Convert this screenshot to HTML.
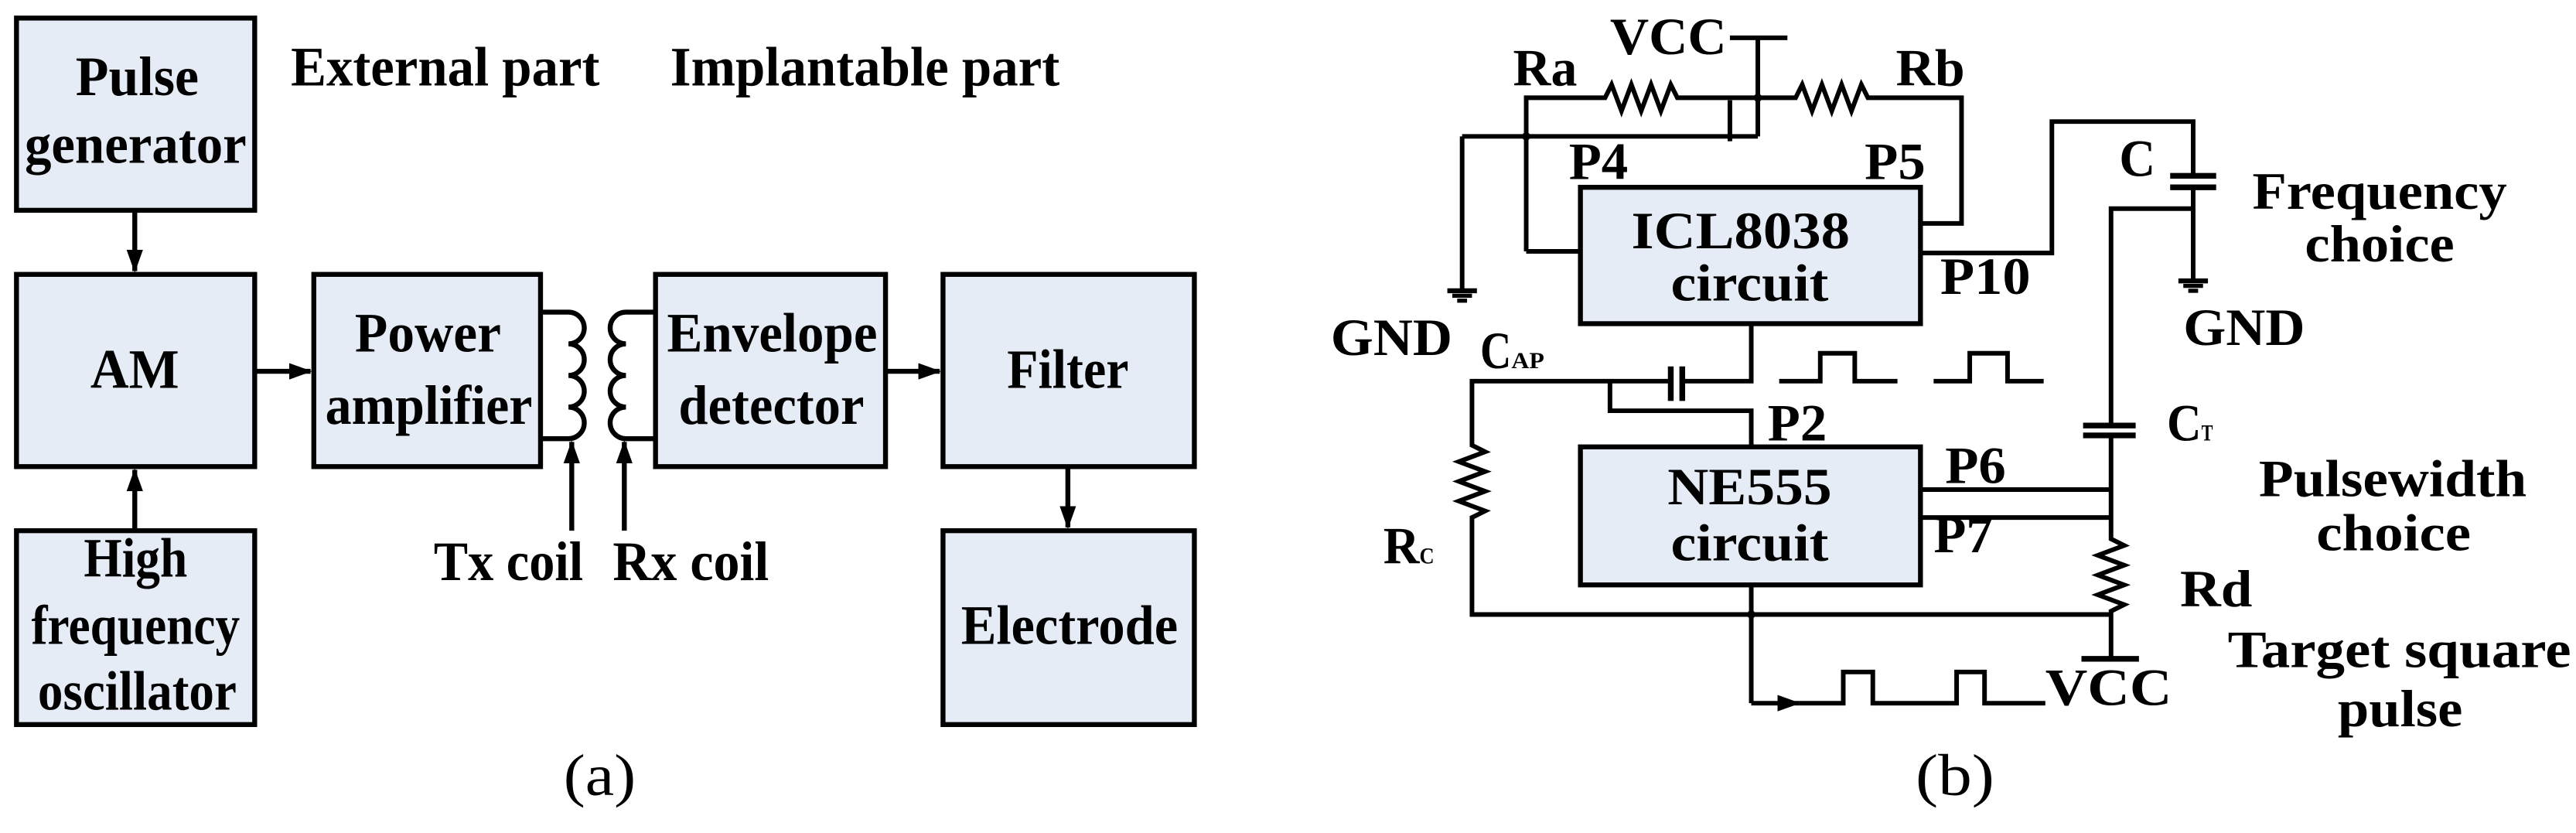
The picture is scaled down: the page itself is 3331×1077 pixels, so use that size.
<!DOCTYPE html>
<html><head><meta charset="utf-8"><style>
html,body{margin:0;padding:0;background:#fff;}
svg{display:block;}
text{font-family:"Liberation Serif",serif;font-weight:bold;fill:#000;}
</style></head><body>
<svg width="3331" height="1077" viewBox="0 0 1568 507" xmlns="http://www.w3.org/2000/svg">
<defs>
<marker id="ah" markerWidth="14" markerHeight="10" refX="13" refY="5" orient="auto" markerUnits="userSpaceOnUse">
<path d="M0,0 L14,5 L0,10 z" fill="#000"/></marker>
</defs>
<g stroke="#000" stroke-width="3" fill="#e5ecf6">
<rect x="10" y="11" width="145" height="117"/>
<rect x="10" y="167" width="145" height="117"/>
<rect x="10" y="323" width="145" height="118"/>
<rect x="191" y="167" width="138" height="117"/>
<rect x="399" y="167" width="140" height="117"/>
<rect x="574" y="167" width="153" height="117"/>
<rect x="574" y="323" width="153" height="118"/>
</g>
<g stroke="#000" stroke-width="3" fill="none">
<line x1="82" y1="128" x2="82" y2="165" marker-end="url(#ah)"/>
<line x1="82" y1="323" x2="82" y2="286" marker-end="url(#ah)"/>
<line x1="155" y1="226" x2="189" y2="226" marker-end="url(#ah)"/>
<line x1="539" y1="226" x2="572" y2="226" marker-end="url(#ah)"/>
<line x1="650" y1="284" x2="650" y2="321" marker-end="url(#ah)"/>
<line x1="348" y1="323" x2="348" y2="269" marker-end="url(#ah)"/>
<line x1="380" y1="323" x2="380" y2="269" marker-end="url(#ah)"/>
<path d="M329,190 L346,190 A9.6,9.6 0 0 1 346,209.25 A9.6,9.6 0 0 1 346,228.5 A9.6,9.6 0 0 1 346,247.75 A9.6,9.6 0 0 1 346,267 L329,267"/>
<path d="M399,190 L381,190 A9.6,9.6 0 0 0 381,209.25 A9.6,9.6 0 0 0 381,228.5 A9.6,9.6 0 0 0 381,247.75 A9.6,9.6 0 0 0 381,267 L399,267"/>
</g>
<g font-size="34">
<text x="46" y="58" textLength="75" lengthAdjust="spacingAndGlyphs">Pulse</text>
<text x="15" y="99" textLength="135" lengthAdjust="spacingAndGlyphs">generator</text>
<text x="177" y="52" textLength="188" lengthAdjust="spacingAndGlyphs">External part</text>
<text x="408" y="52" textLength="237" lengthAdjust="spacingAndGlyphs">Implantable part</text>
<text x="55" y="236" textLength="54" lengthAdjust="spacingAndGlyphs">AM</text>
<text x="216" y="214" textLength="89" lengthAdjust="spacingAndGlyphs">Power</text>
<text x="198" y="258" textLength="126" lengthAdjust="spacingAndGlyphs">amplifier</text>
<text x="406" y="214" textLength="128" lengthAdjust="spacingAndGlyphs">Envelope</text>
<text x="413" y="258" textLength="113" lengthAdjust="spacingAndGlyphs">detector</text>
<text x="613" y="236" textLength="74" lengthAdjust="spacingAndGlyphs">Filter</text>
<text x="51" y="351" textLength="63" lengthAdjust="spacingAndGlyphs">High</text>
<text x="19" y="392" textLength="127" lengthAdjust="spacingAndGlyphs">frequency</text>
<text x="23" y="432" textLength="121" lengthAdjust="spacingAndGlyphs">oscillator</text>
<text x="585" y="392" textLength="132" lengthAdjust="spacingAndGlyphs">Electrode</text>
<text x="264" y="353" textLength="91" lengthAdjust="spacingAndGlyphs">Tx coil</text>
<text x="373" y="353" textLength="95" lengthAdjust="spacingAndGlyphs">Rx coil</text>
</g>
<text x="343" y="484" font-size="36" style="font-weight:normal" textLength="44" lengthAdjust="spacingAndGlyphs">(a)</text>
<text x="1166" y="484" font-size="36" style="font-weight:normal" textLength="48" lengthAdjust="spacingAndGlyphs">(b)</text>

<g stroke="#000" stroke-width="3" fill="#e5ecf6">
<rect x="962" y="114" width="207" height="83"/>
<rect x="962" y="272" width="207" height="84"/>
</g>
<g stroke="#000" stroke-width="2.8" fill="none">
<line x1="1053" y1="23" x2="1088" y2="23"/>
<line x1="1070" y1="23" x2="1070" y2="83"/>
<path d="M929,153 L929,59.5 L977,59.5 l4,-8 l6,16 l6,-16 l6,16 l6,-16 l6,16 l6,-16 l4,8 L1093,59.5 l4,-8 l6,16 l6,-16 l6,16 l6,-16 l6,16 l6,-16 l4,8 L1194,59.5 L1194,136 L1169,136"/>
<line x1="929" y1="153" x2="962" y2="153"/>
<line x1="890" y1="83" x2="1070" y2="83"/>
<line x1="1053" y1="61" x2="1053" y2="86"/>
<line x1="890" y1="83" x2="890" y2="177"/>
<line x1="881" y1="177" x2="899" y2="177" stroke-width="3"/>
<line x1="884" y1="180" x2="896" y2="180" stroke-width="2.5"/>
<line x1="887" y1="183" x2="893" y2="183" stroke-width="2.5"/>
<path d="M1169,154 L1249,154 L1249,74 L1335,74 L1335,107"/>
<line x1="1321" y1="107" x2="1349" y2="107" stroke-width="3.5"/>
<line x1="1321" y1="114" x2="1349" y2="114" stroke-width="3.5"/>
<line x1="1335" y1="114" x2="1335" y2="171"/>
<line x1="1326" y1="171" x2="1344" y2="171" stroke-width="3"/>
<line x1="1329" y1="174" x2="1341" y2="174" stroke-width="2.5"/>
<line x1="1332" y1="177" x2="1338" y2="177" stroke-width="2.5"/>
<path d="M1335,127 L1285,127 L1285,259"/>
<line x1="1268" y1="259" x2="1300" y2="259" stroke-width="3.5"/>
<line x1="1268" y1="265" x2="1300" y2="265" stroke-width="3.5"/>
<path d="M1285,265 L1285,328 l8,4 l-16,6 l16,6 l-16,6 l16,6 l-16,6 l16,6 l-8,4 L1285,401"/>
<line x1="1267" y1="401" x2="1302" y2="401" stroke-width="3.5"/>
<line x1="1169" y1="298" x2="1285" y2="298"/>
<line x1="1169" y1="315" x2="1285" y2="315"/>
<path d="M1066,197 L1066,232 L1024,232"/>
<line x1="1024" y1="223" x2="1024" y2="244" stroke-width="3.5"/>
<line x1="1017" y1="223" x2="1017" y2="244" stroke-width="3.5"/>
<path d="M1017,232 L896,232 L896,271 l8,4 l-16,6 l16,6 l-16,6 l16,6 l-16,6 l16,6 l-8,4 L896,374 L1285,374"/>
<path d="M980,232 L980,250 L1066,250 L1066,272"/>
<path d="M1083,232 L1108,232 L1108,215 L1129,215 L1129,232 L1155,232 M1177,232 L1199,232 L1199,215 L1222,215 L1222,232 L1244,232"/>
<line x1="1066" y1="356" x2="1066" y2="428"/>
<line x1="1066" y1="428" x2="1095" y2="428" marker-end="url(#ah)"/>
<path d="M1095,428 L1122,428 L1122,409 L1140,409 L1140,428 L1191,428 L1191,409 L1208,409 L1208,428 L1245,428"/>
</g>
<g fill="#000">
<circle cx="1070" cy="59.5" r="2.5"/>
<circle cx="929" cy="83" r="2.5"/>
<circle cx="1066" cy="374" r="2.5"/>
</g>
<g font-size="32">
<text x="980" y="33" textLength="71" lengthAdjust="spacingAndGlyphs">VCC</text>
<text x="921" y="52" textLength="39" lengthAdjust="spacingAndGlyphs">Ra</text>
<text x="1154" y="52" textLength="42" lengthAdjust="spacingAndGlyphs">Rb</text>
<text x="955" y="109" textLength="36" lengthAdjust="spacingAndGlyphs">P4</text>
<text x="1135" y="109" textLength="37" lengthAdjust="spacingAndGlyphs">P5</text>
<text x="993" y="151" textLength="133" lengthAdjust="spacingAndGlyphs">ICL8038</text>
<text x="1017" y="183" textLength="96" lengthAdjust="spacingAndGlyphs">circuit</text>
<text x="1181" y="179" textLength="55" lengthAdjust="spacingAndGlyphs">P10</text>
<text x="810" y="216" textLength="74" lengthAdjust="spacingAndGlyphs">GND</text>
<text x="901" y="224" textLength="19" lengthAdjust="spacingAndGlyphs">C</text>
<text x="920" y="224" font-size="14" textLength="20" lengthAdjust="spacingAndGlyphs">AP</text>
<text x="1290" y="107" textLength="22" lengthAdjust="spacingAndGlyphs">C</text>
<text x="1371" y="127" textLength="155" lengthAdjust="spacingAndGlyphs">Frequency</text>
<text x="1403" y="159" textLength="91" lengthAdjust="spacingAndGlyphs">choice</text>
<text x="1329" y="210" textLength="74" lengthAdjust="spacingAndGlyphs">GND</text>
<text x="1319" y="268" textLength="21" lengthAdjust="spacingAndGlyphs">C</text>
<text x="1340" y="268" font-size="14" textLength="7" lengthAdjust="spacingAndGlyphs">T</text>
<text x="1076" y="268" textLength="36" lengthAdjust="spacingAndGlyphs">P2</text>
<text x="1015" y="307" textLength="100" lengthAdjust="spacingAndGlyphs">NE555</text>
<text x="1017" y="341" textLength="96" lengthAdjust="spacingAndGlyphs">circuit</text>
<text x="1184" y="294" textLength="37" lengthAdjust="spacingAndGlyphs">P6</text>
<text x="1177" y="336" textLength="36" lengthAdjust="spacingAndGlyphs">P7</text>
<text x="1375" y="302" textLength="163" lengthAdjust="spacingAndGlyphs">Pulsewidth</text>
<text x="1410" y="335" textLength="94" lengthAdjust="spacingAndGlyphs">choice</text>
<text x="1327" y="369" textLength="44" lengthAdjust="spacingAndGlyphs">Rd</text>
<text x="842" y="343" textLength="22" lengthAdjust="spacingAndGlyphs">R</text>
<text x="864" y="343" font-size="14" textLength="9" lengthAdjust="spacingAndGlyphs">C</text>
<text x="1356" y="406" textLength="209" lengthAdjust="spacingAndGlyphs">Target square</text>
<text x="1423" y="442" textLength="76" lengthAdjust="spacingAndGlyphs">pulse</text>
<text x="1245" y="429" textLength="77" lengthAdjust="spacingAndGlyphs">VCC</text>
</g>
</svg>
</body></html>
